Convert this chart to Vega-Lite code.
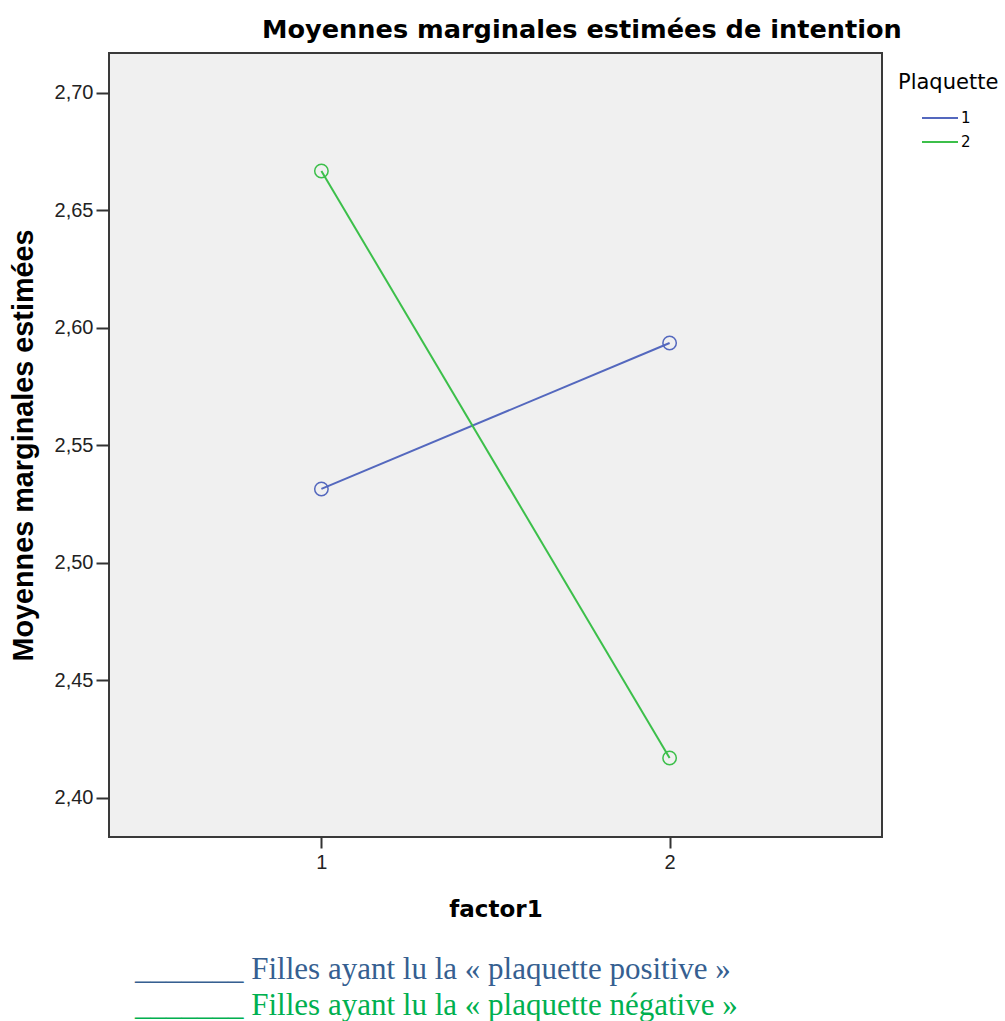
{
  "$schema": "https://vega.github.io/schema/vega-lite/v6.json",
  "background": "white",
  "padding": {"left": 8, "top": 18, "right": 0, "bottom": 0},
  "title": {
    "text": "Moyennes marginales estimées de intention",
    "font": "DejaVu Sans",
    "fontWeight": "bold",
    "fontSize": 25.6,
    "color": "#000000",
    "anchor": "start",
    "dx": 254,
    "offset": 8
  },
  "vconcat": [
    {
      "width": 773,
      "height": 784,
      "title": {
        "text": "_______ Filles ayant lu la « plaquette positive »",
        "subtitle": "_______ Filles ayant lu la « plaquette négative »",
        "orient": "bottom",
        "anchor": "start",
        "frame": "group",
        "dx": 26,
        "offset": 34,
        "font": "Liberation Serif",
        "fontSize": 31,
        "fontWeight": "normal",
        "color": "#365F91",
        "subtitleFont": "Liberation Serif",
        "subtitleFontSize": 31,
        "subtitleColor": "#00B050",
        "subtitlePadding": 5
      },
      "data": {
        "values": [
          {"factor1": 1, "Plaquette": "1", "mean": 2.5314},
          {"factor1": 2, "Plaquette": "1", "mean": 2.5935},
          {"factor1": 1, "Plaquette": "2", "mean": 2.6667},
          {"factor1": 2, "Plaquette": "2", "mean": 2.4169}
        ]
      },
      "layer": [
        {
          "mark": {"type": "line", "strokeWidth": 2},
          "encoding": {
            "x": {
              "field": "factor1",
              "type": "quantitative",
              "scale": {"domain": [0.39, 2.61], "nice": false, "zero": false},
              "axis": {
                "values": [1, 2],
                "format": "d",
                "tickSize": 11,
                "labelPadding": 4,
                "title": "factor1",
                "titleFont": "DejaVu Sans",
                "titleFontSize": 23,
                "titleFontWeight": "bold",
                "titleY": 79,
                "titleBaseline": "alphabetic"
              }
            },
            "y": {
              "field": "mean",
              "type": "quantitative",
              "scale": {"domain": [2.3833, 2.7169], "nice": false, "zero": false},
              "axis": {
                "values": [2.4, 2.45, 2.5, 2.55, 2.6, 2.65, 2.7],
                "labelExpr": "replace(format(datum.value, '.2f'), '.', ',')",
                "tickSize": 13,
                "labelPadding": 3,
                "title": "Moyennes marginales estimées",
                "titleFont": "Liberation Sans",
                "titleFontSize": 28.8,
                "titleFontWeight": "bold",
                "titleX": -77,
                "titleBaseline": "alphabetic"
              }
            },
            "color": {
              "field": "Plaquette",
              "type": "nominal",
              "scale": {"domain": ["1", "2"], "range": ["#5468BE", "#3CBF4A"]},
              "legend": {
                "orient": "none",
                "legendX": 789,
                "legendY": 19,
                "title": "Plaquette",
                "titleFont": "DejaVu Sans",
                "titleFontSize": 21,
                "titleFontWeight": "normal",
                "titleColor": "#000000",
                "titlePadding": 16,
                "labelFont": "DejaVu Sans",
                "labelFontSize": 15,
                "labelColor": "#000000",
                "symbolType": "M-2.25,0H2.25",
                "symbolSize": 256,
                "symbolStrokeWidth": 2,
                "symbolOffset": 33,
                "labelOffset": 12,
                "rowPadding": 7
              }
            }
          }
        },
        {
          "mark": {"type": "point", "filled": false, "size": 180, "strokeWidth": 1.5, "opacity": 1},
          "encoding": {
            "x": {"field": "factor1", "type": "quantitative"},
            "y": {"field": "mean", "type": "quantitative"},
            "color": {"field": "Plaquette", "type": "nominal", "legend": null}
          }
        }
      ]
    }
  ],
  "config": {
    "view": {"fill": "#F0F0F0", "stroke": "#3a3a3a", "strokeWidth": 2},
    "axis": {
      "grid": false,
      "domain": false,
      "tickColor": "#333333",
      "tickWidth": 2,
      "labelFont": "Liberation Sans",
      "labelFontSize": 20,
      "labelColor": "#222222",
      "titleColor": "#000000"
    }
  }
}
